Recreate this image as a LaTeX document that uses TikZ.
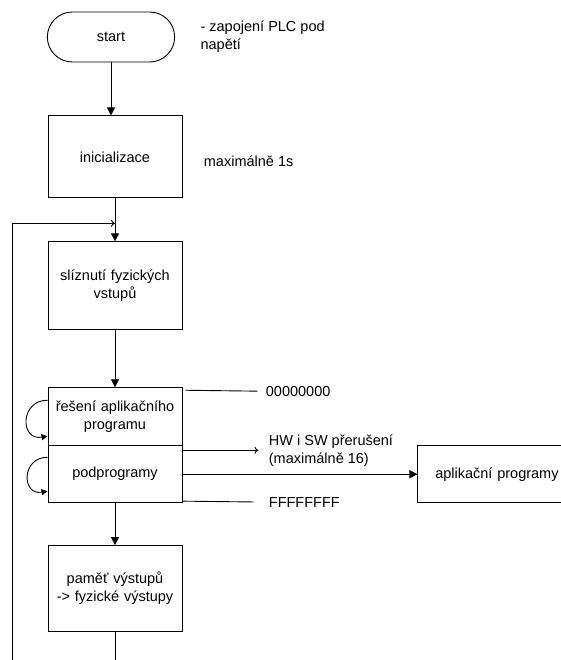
\documentclass[tikz,border=0pt]{standalone}
\usepackage{fontspec}
\setmainfont{Liberation Sans}
\usetikzlibrary{shapes.misc, arrows.meta, positioning}
\tikzstyle{startstop} = [rounded rectangle, minimum width=134pt, minimum height=50pt, text centered, draw=black]
\tikzstyle{process} = [rectangle, minimum width=134pt, text width=130pt, align=center, inner sep=0pt, draw=black]
\tikzstyle{note} = [align=left, inner sep=0pt]
\tikzstyle{arrow} = [->,>={Triangle[length=8pt,width=8pt]}]
\tikzstyle{loopback} = [->,>={Triangle[length=6pt,width=6pt]}]
\tikzstyle{thinarrow} = [->,>={To[length=4pt,width=7pt]}]

\begin{document}
\begin{tikzpicture}[line width=0.9pt, font=\fontsize{14.5}{18}\selectfont]
\useasboundingbox (0,0) rectangle (560pt,-660pt);

\node (start) [startstop] at (111pt,-37pt) {start};
\node (init) [process, minimum height=82pt, below=53pt of start, xshift=4pt] {inicializace};
\node (read) [process, minimum height=88pt, below=43pt of init] {slíznutí fyzických\\vstupů};
\node (solve) [process, minimum height=58pt, below=57pt of read] {řešení aplikačního\\programu};
\node (sub) [process, minimum height=57pt, below=-0.9pt of solve] {podprogramy};
\node (mem) [process, minimum height=86pt, below=42pt of sub] {paměť výstupů\\-> fyzické výstupy};
\node (apps) [process, minimum width=158pt, text width=154pt, minimum height=57pt, right=235pt of sub] {aplikační programy};

\node (power) [note, right=25pt of start] {- zapojení PLC pod\\napětí};
\node (limit) [note, right=21pt of init, yshift=-4pt] {maximálně 1s};
\node (zeros) [note, anchor=west] at ([xshift=83pt,yshift=-4pt]solve.north east) {00000000};
\node (irq) [note, anchor=west] at ([xshift=86pt,yshift=-5pt]sub.north east) {HW i SW přerušení\\(maximálně 16)};
\node (ones) [note, anchor=west] at ([xshift=86pt,yshift=1pt]sub.south east) {FFFFFFFF};

\coordinate (merge) at ([yshift=-25pt]init.south);

\draw [arrow] (start.south) -- (start.south |- init.north);
\draw [arrow] (init.south) -- (read.north);
\draw [arrow] (read) -- (solve);
\draw [arrow] (sub) -- (mem);
\draw [arrow] (sub.east) -- (sub.east -| apps.west);
\draw [thinarrow] (mem.south) -- ++(0,-37pt) -| ([xshift=-103pt]merge) -- (merge);
\draw [loopback] ([yshift=-13pt]solve.north west) to [out=180, in=190, looseness=2] ([yshift=10pt]solve.south west);
\draw [loopback] ([yshift=-12pt]sub.north west) to [out=180, in=190, looseness=2] ([yshift=12pt]sub.south west);
\draw [shorten >=8pt] ([xshift=3pt,yshift=-3pt]solve.north east) -- (zeros.west);
\draw [thinarrow, shorten >=10pt] ([yshift=-5pt]sub.north east) -- (irq.west);
\draw [shorten >=15pt] ([yshift=2pt]sub.south east) -- (ones.west);

\end{tikzpicture}
\end{document}
